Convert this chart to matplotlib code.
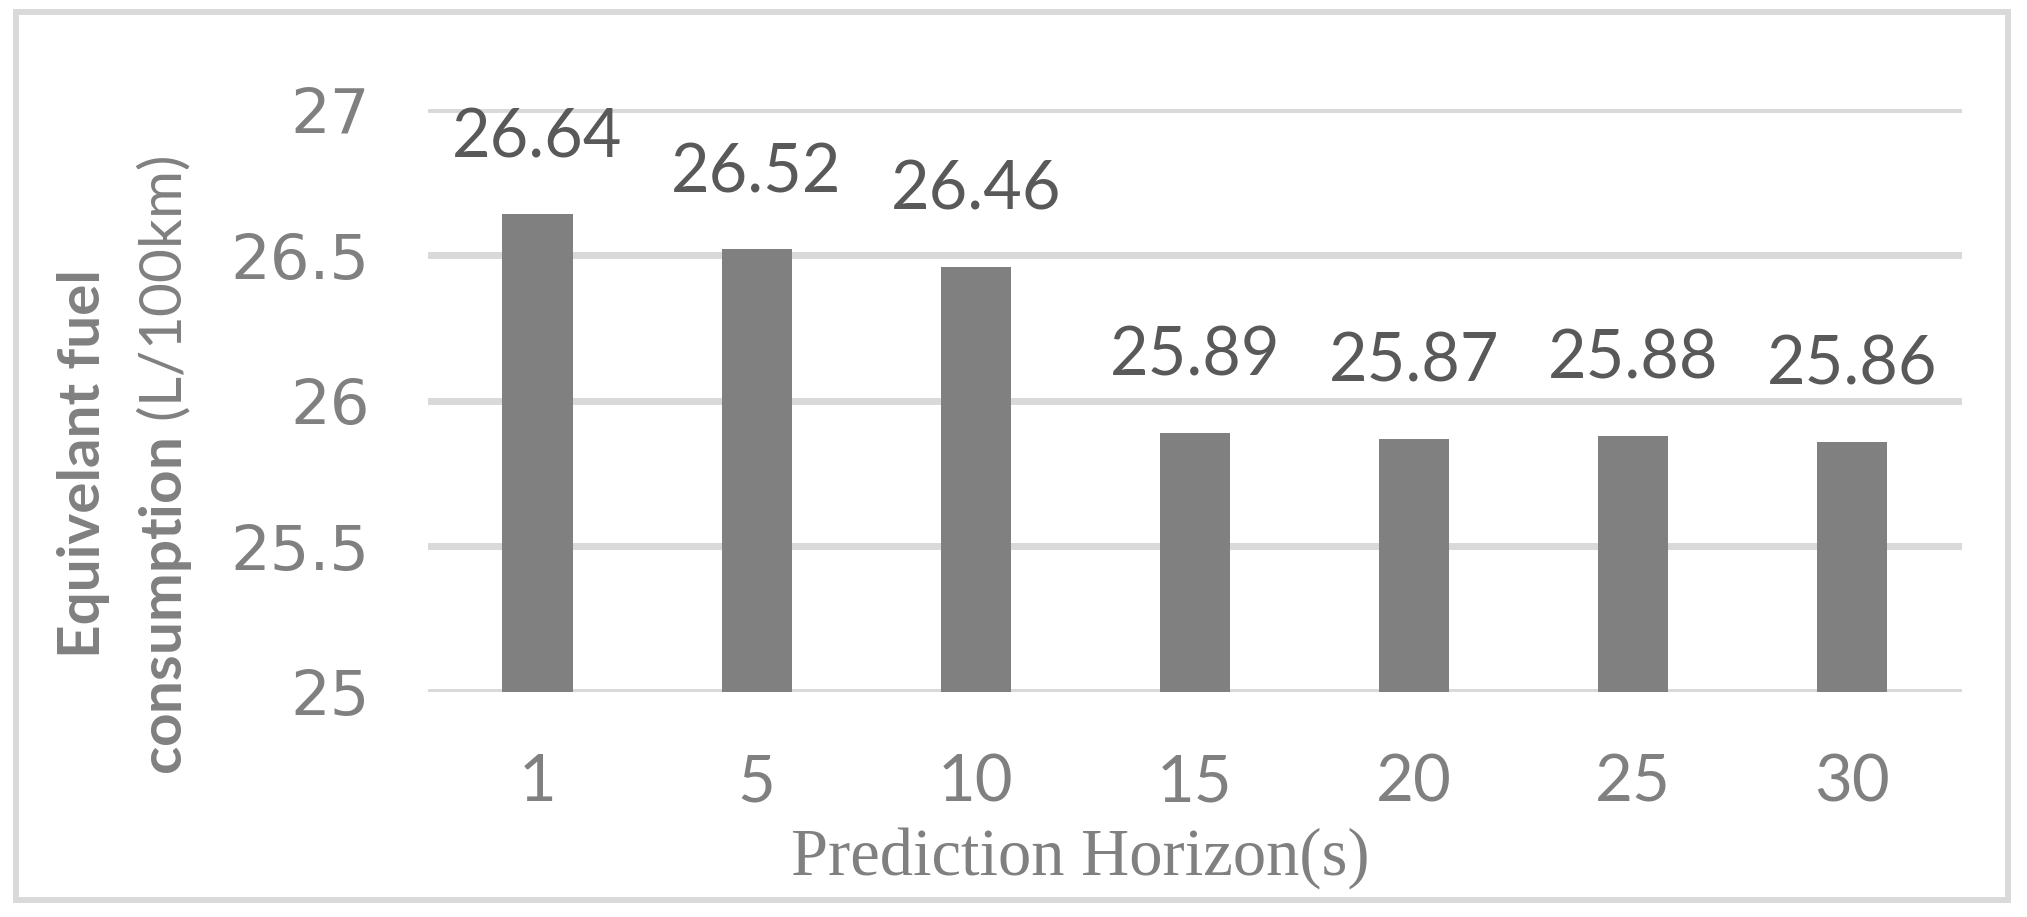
import matplotlib.pyplot as plt
from matplotlib.patches import Rectangle

horizons = ['1', '5', '10', '15', '20', '25', '30']
fuel = [26.64, 26.52, 26.46, 25.89, 25.87, 25.88, 25.86]
y_ticks = [25, 25.5, 26, 26.5, 27]
y_tick_labels = ['25', '25.5', '26', '26.5', '27']

plt.rcParams['mathtext.fontset'] = 'custom'
plt.rcParams['mathtext.rm'] = 'Lato'
plt.rcParams['mathtext.bf'] = 'Lato:bold'

fig = plt.figure(figsize=(20.27, 9.17), dpi=100)
ax = fig.add_axes([0.2111, 0.2454, 0.7568, 0.6352])

x = range(len(horizons))
ax.bar(x, fuel, width=0.32, color='#808080', zorder=3)
ax.set_ylim(25, 27)
ax.set_xlim(-0.5, len(horizons) - 0.5)

# value labels above the bars
for i, v in zip(x, fuel):
    ax.annotate(f'{v:.2f}', (i, v), xytext=(0, 41), textcoords='offset points',
                ha='center', va='baseline', fontsize=48, color='#595959', family='Lato')

ax.set_yticks(y_ticks)
ax.set_yticklabels(y_tick_labels, fontsize=45, color='#808080', family='DejaVu Sans')
ax.set_xticks(list(x))
ax.set_xticklabels(horizons, fontsize=47, color='#808080', family='Lato')
ax.tick_params(length=0)
ax.tick_params(axis='y', pad=42)
ax.tick_params(axis='x', pad=44)
ax.grid(axis='y', color='#d9d9d9', linewidth=5, zorder=0)
for s in ax.spines.values():
    s.set_visible(False)

fig.text(0.533, 0.0458, 'Prediction Horizon(s)', ha='center', va='baseline',
         fontsize=48, color='#808080', family='Liberation Serif')

# two-line y label, "(L/100km)" not bold
fig.text(0.0493, 0.494, 'Equivelant fuel', rotation=90, rotation_mode='anchor',
         ha='center', va='baseline', fontsize=42, fontweight='bold',
         color='#808080', family='Lato')
fig.text(0.0898, 0.492, r'$\mathbf{consumption}$ (L/100km)', rotation=90,
         rotation_mode='anchor', ha='center', va='baseline', fontsize=42,
         color='#808080', family='Lato')

fig.patches.append(Rectangle((0.00765, 0.0185), 0.983, 0.968, transform=fig.transFigure,
                             fill=False, edgecolor='#d9d9d9', linewidth=4.3))

fig.savefig('out.png', dpi=100)
